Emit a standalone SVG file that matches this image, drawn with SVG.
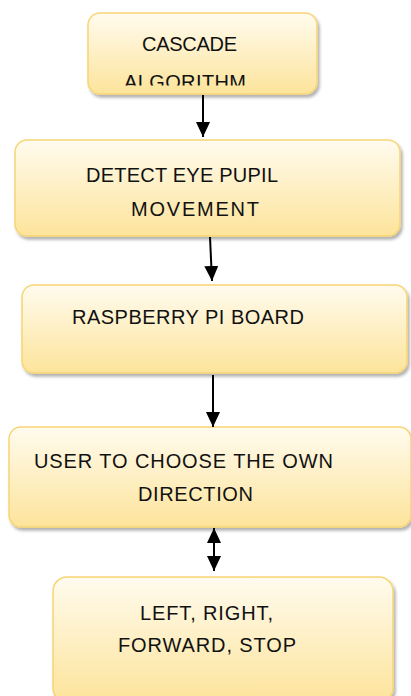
<svg xmlns="http://www.w3.org/2000/svg" width="411" height="696" viewBox="0 0 411 696">
<style>
.box{fill:url(#g);stroke:#f7d574;stroke-width:1.5;filter:url(#sh)}
.t{font-family:"Liberation Sans",Arial,sans-serif;font-size:20px;fill:#111}
.c{stroke:#000;stroke-width:2;fill:none}
</style>
<defs>
<linearGradient id="g" x1="0" y1="0" x2="0" y2="1">
<stop offset="0" stop-color="#fffbee"/>
<stop offset="1" stop-color="#fde49b"/>
</linearGradient>
<filter id="sh" x="-5%" y="-5%" width="115%" height="125%">
<feDropShadow dx="2" dy="3" stdDeviation="1.5" flood-color="#000" flood-opacity="0.3"/>
</filter>
<marker id="ah" viewBox="0 0 15 14" refX="15" refY="7" markerWidth="15" markerHeight="14" markerUnits="userSpaceOnUse" orient="auto-start-reverse">
<path d="M0,0 L15,7 L0,14 z" fill="#000"/>
</marker>
<clipPath id="clip1"><rect x="80" y="60" width="250" height="25.5"/></clipPath>
</defs>
<g id="n1">
<rect class="box" x="88" y="13" width="229" height="81" rx="12"/>
<text class="t" x="142" y="51" textLength="95" lengthAdjust="spacing">CASCADE</text>
<text class="t" x="124" y="88.5" textLength="122" lengthAdjust="spacing" clip-path="url(#clip1)">ALGORITHM</text>
</g>
<g id="n2">
<rect class="box" x="15" y="140" width="385" height="96" rx="12"/>
<text class="t" x="86" y="182" textLength="192" lengthAdjust="spacing">DETECT EYE PUPIL</text>
<text class="t" x="131" y="216" textLength="128" lengthAdjust="spacing">MOVEMENT</text>
</g>
<g id="n3">
<rect class="box" x="22" y="285" width="385" height="88" rx="12"/>
<text class="t" x="72" y="324" textLength="232" lengthAdjust="spacing">RASPBERRY PI BOARD</text>
</g>
<g id="n4">
<rect class="box" x="9" y="427" width="402" height="100" rx="12"/>
<text class="t" x="34" y="468" textLength="299" lengthAdjust="spacing">USER TO CHOOSE THE OWN</text>
<text class="t" x="138" y="501" textLength="115" lengthAdjust="spacing">DIRECTION</text>
</g>
<g id="n5">
<rect class="box" x="53" y="577" width="340" height="125" rx="14"/>
<text class="t" x="140" y="620" textLength="133" lengthAdjust="spacing">LEFT, RIGHT,</text>
<text class="t" x="118" y="652" textLength="178" lengthAdjust="spacing">FORWARD, STOP</text>
</g>
<g id="connectors">
<line class="c" x1="203" y1="95" x2="203" y2="137" marker-end="url(#ah)"/>
<line class="c" x1="210" y1="237" x2="212" y2="281" marker-end="url(#ah)"/>
<line class="c" x1="213" y1="375" x2="213" y2="427" marker-end="url(#ah)"/>
<line class="c" x1="214" y1="528" x2="214" y2="571" marker-start="url(#ah)" marker-end="url(#ah)"/>
</g>
</svg>
